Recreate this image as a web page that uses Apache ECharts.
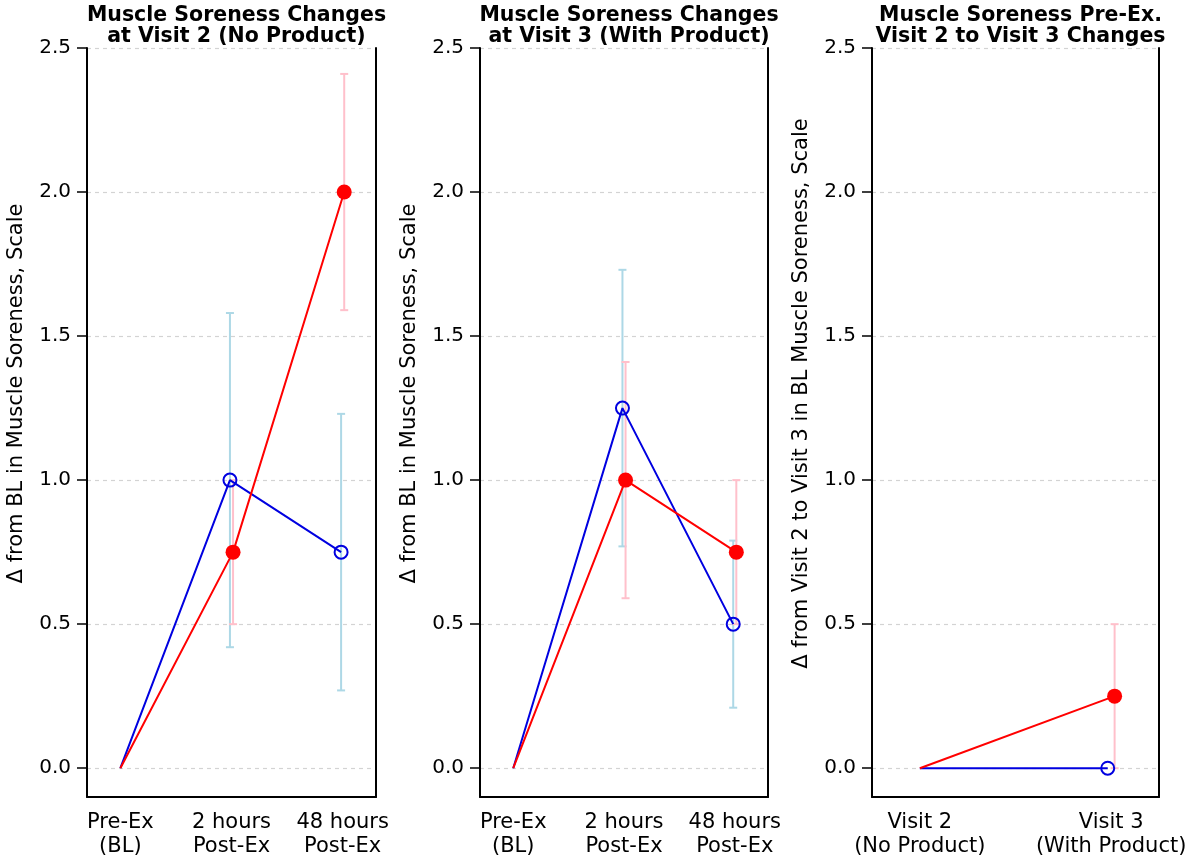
<!DOCTYPE html>
<html>
<head>
<meta charset="utf-8">
<script src="https://cdn.jsdelivr.net/npm/echarts@6/dist/echarts.min.js"></script>
<style>html,body{margin:0;padding:0;background:#fff}#c{width:1200px;height:859px}</style>
</head>
<body>
<div id="c"></div>
<script>
// ---- data ----
const titles = [
  'Muscle Soreness Changes\nat Visit 2 (No Product)',
  'Muscle Soreness Changes\nat Visit 3 (With Product)',
  'Muscle Soreness Pre-Ex.\nVisit 2 to Visit 3 Changes'
];
const yNames = [
  '\u0394 from BL in Muscle Soreness, Scale',
  '\u0394 from BL in Muscle Soreness, Scale',
  '\u0394 from Visit 2 to Visit 3 in BL Muscle Soreness, Scale'
];
const timeCats = ['Pre-Ex\n(BL)', '2 hours\nPost-Ex', '48 hours\nPost-Ex'];
const visitCats = ['Visit 2\n(No Product)', 'Visit 3\n(With Product)'];
const yTicks = [0, 0.5, 1.0, 1.5, 2.0, 2.5];

// Panel 1 : Visit 2 (No Product)
const p1BlueMean = [0, 1.00, 0.75];
const p1BlueLow  = [0, 0.42, 0.27];
const p1BlueHigh = [0, 1.58, 1.23];
const p1RedMean  = [0, 0.75, 2.00];
const p1RedLow   = [0, 0.50, 1.59];
const p1RedHigh  = [0, 1.00, 2.41];
// Panel 2 : Visit 3 (With Product)
const p2BlueMean = [0, 1.25, 0.50];
const p2BlueLow  = [0, 0.77, 0.21];
const p2BlueHigh = [0, 1.73, 0.79];
const p2RedMean  = [0, 1.00, 0.75];
const p2RedLow   = [0, 0.59, 0.50];
const p2RedHigh  = [0, 1.41, 1.00];
// Panel 3 : Pre-Ex change Visit 2 -> Visit 3
const p3BlueMean = [0, 0];
const p3BlueLow  = [0, 0];
const p3BlueHigh = [0, 0];
const p3RedMean  = [0, 0.25];
const p3RedLow   = [0, 0.00];
const p3RedHigh  = [0, 0.50];

// ---- layout / style ----
const FONT = 'DejaVu Sans';
const BLUE = '#0000E0', RED = '#FF0000', LBLUE = '#ADD8E6', PINK = '#FFC0CB';
const panels = [
  {left: 87,  width: 289, xmin: 0.7,  xmax: 3.3,  cats: timeCats,  dodge: 0.014,
   blue: [p1BlueMean, p1BlueLow, p1BlueHigh], red: [p1RedMean, p1RedLow, p1RedHigh]},
  {left: 480, width: 288, xmin: 0.7,  xmax: 3.3,  cats: timeCats,  dodge: 0.014,
   blue: [p2BlueMean, p2BlueLow, p2BlueHigh], red: [p2RedMean, p2RedLow, p2RedHigh]},
  {left: 872, width: 287, xmin: 0.75, xmax: 2.25, cats: visitCats, dodge: 0.018,
   blue: [p3BlueMean, p3BlueLow, p3BlueHigh], red: [p3RedMean, p3RedLow, p3RedHigh]}
];

const grid = [], xAxis = [], yAxis = [], series = [], title = [];
panels.forEach((p, i) => {
  grid.push({left: p.left, width: p.width, top: 48, height: 756, containLabel: false});
  title.push({
    text: titles[i], left: p.left + p.width / 2, top: 0, textAlign: 'center',
    textStyle: {fontFamily: FONT, fontWeight: 'bold', fontSize: 20.5, lineHeight: 21, color: '#000'}
  });
  const catPos = p.cats.map((c, k) => k + 1);
  xAxis.push({
    type: 'value', gridIndex: i, min: p.xmin, max: p.xmax,
    axisLine: {show: true, onZero: false, lineStyle: {color: '#000', width: 2}},
    axisTick: {show: false},
    splitLine: {show: false},
    axisLabel: {
      customValues: catPos, margin: 14, color: '#000',
      fontFamily: FONT, fontSize: 21, lineHeight: 24,
      formatter: v => p.cats[Math.round(v) - 1] || ''
    }
  });
  yAxis.push({
    type: 'value', gridIndex: i, min: -0.1, max: 2.5, position: 'left',
    name: yNames[i], nameLocation: 'middle', nameRotate: 90, nameGap: 60,
    nameTextStyle: {fontFamily: FONT, fontSize: 21, color: '#000', padding: [0, 0, 0, 58]},
    axisLine: {show: true, onZero: false, lineStyle: {color: '#000', width: 2}},
    axisTick: {show: true, customValues: yTicks, length: 10, lineStyle: {color: '#000', width: 1.5}},
    axisLabel: {customValues: yTicks, margin: 16, color: '#000', fontFamily: FONT, fontSize: 20,
      formatter: v => v.toFixed(1)},
    splitLine: {show: true, lineStyle: {color: '#D3D3D3', width: 1.2, type: [4, 4]}}
  });
  // right border
  yAxis.push({
    type: 'value', gridIndex: i, min: -0.1, max: 2.5, position: 'right',
    axisLine: {show: true, onZero: false, lineStyle: {color: '#000', width: 2}},
    axisTick: {show: false}, axisLabel: {show: false}, splitLine: {show: false}
  });
});

function errorBarSeries(xi, yi, stats, sign, dodge, color) {
  const data = stats[0].map((m, k) => {
    const x = k === 0 ? 1 : k + 1 + sign * dodge;
    return [x, stats[1][k], stats[2][k]];
  });
  return {
    type: 'custom', xAxisIndex: xi, yAxisIndex: yi, z: 1, silent: true,
    data: data,
    encode: {x: 0, y: [1, 2]},
    renderItem: (params, api) => {
      const x = api.value(0), lo = api.value(1), hi = api.value(2);
      if (hi - lo <= 0) return null;
      const a = api.coord([x, lo]), b = api.coord([x, hi]);
      const w = 4;
      const st = {stroke: color, lineWidth: 2};
      return {type: 'group', children: [
        {type: 'line', shape: {x1: a[0], y1: a[1], x2: b[0], y2: b[1]}, style: st},
        {type: 'line', shape: {x1: a[0] - w, y1: a[1], x2: a[0] + w, y2: a[1]}, style: st},
        {type: 'line', shape: {x1: b[0] - w, y1: b[1], x2: b[0] + w, y2: b[1]}, style: st}
      ]};
    }
  };
}

function lineSeries(xi, yi, means, sign, dodge, color, filled) {
  const data = means.map((m, k) => {
    const x = k === 0 ? 1 : k + 1 + sign * dodge;
    const d = {value: [x, m]};
    if (k === 0) d.symbol = 'none';
    return d;
  });
  return {
    type: 'line', xAxisIndex: xi, yAxisIndex: yi, z: filled ? 4 : 3, data: data,
    symbol: 'circle', symbolSize: filled ? 15 : 13, showSymbol: true, silent: true,
    lineStyle: {color: color, width: 2},
    itemStyle: filled ? {color: color, borderWidth: 0}
                      : {color: 'rgba(255,255,255,0)', borderColor: color, borderWidth: 2},
    emphasis: {disabled: true}, animation: false
  };
}

panels.forEach((p, i) => {
  const yi = i * 2;
  series.push(errorBarSeries(i, yi, p.blue, -1, p.dodge, LBLUE));
  series.push(errorBarSeries(i, yi, p.red, 1, p.dodge, PINK));
  series.push(lineSeries(i, yi, p.blue[0], -1, p.dodge, BLUE, false));
  series.push(lineSeries(i, yi, p.red[0], 1, p.dodge, RED, true));
});

const chart = echarts.init(document.getElementById('c'), null, {renderer: 'canvas'});
chart.setOption({
  backgroundColor: '#fff', animation: false,
  title, grid, xAxis, yAxis, series
});
</script>
</body>
</html>
